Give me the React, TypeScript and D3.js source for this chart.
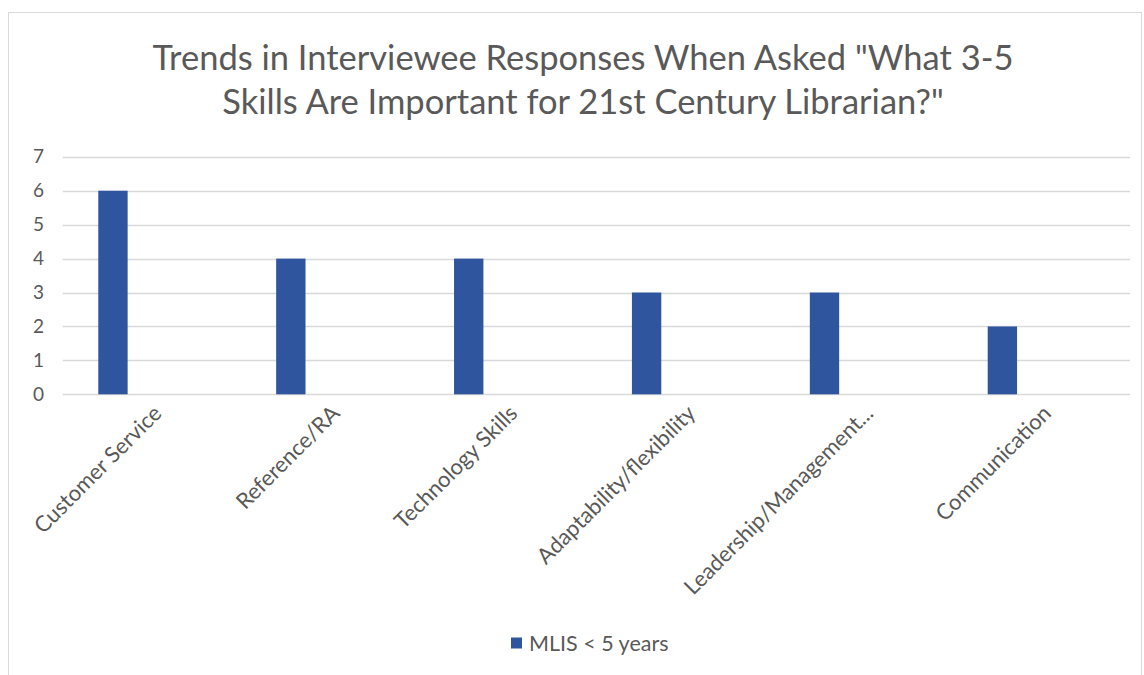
import { useRef, useEffect } from 'react';
import * as d3 from 'd3';

const categories = [
  'Customer Service',
  'Reference/RA',
  'Technology Skills',
  'Adaptability/flexibility',
  'Leadership/Management...',
  'Communication',
];
const values = [6, 4, 4, 3, 3, 2];
const yTicks = [0, 1, 2, 3, 4, 5, 6, 7];
const seriesName = 'MLIS < 5 years';
const titleLines = [
  'Trends in Interviewee Responses When Asked "What 3-5',
  'Skills Are Important for 21st Century Librarian?"',
];

const W = 1144;
const H = 675;
const FONT = 'Lato, "Open Sans", sans-serif';
const TEXT = '#595959';
const BAR = '#2F559F';
const GRID = '#D9D9D9';

const App = () => {
  const svgRef = useRef(null);

  useEffect(() => {
    const svg = d3.select(svgRef.current);
    svg.selectAll('*').remove();

    const plot = { left: 62.7, right: 1130, top: 156.8, bottom: 394.3 };

    // chart frame
    svg
      .append('rect')
      .attr('x', 8.5)
      .attr('y', 12.5)
      .attr('width', 1133)
      .attr('height', 700)
      .attr('fill', 'white')
      .attr('stroke', GRID);

    const x = d3
      .scaleBand<string>()
      .domain(categories)
      .range([plot.left, plot.right]);

    const y = d3
      .scaleLinear()
      .domain([0, 7])
      .range([plot.bottom, plot.top]);

    // gridlines
    svg
      .append('g')
      .selectAll('line')
      .data(yTicks)
      .join('line')
      .attr('x1', plot.left)
      .attr('x2', plot.right)
      .attr('y1', (d) => Math.round(y(d)) + 0.5)
      .attr('y2', (d) => Math.round(y(d)) + 0.5)
      .attr('stroke', GRID)
      .attr('stroke-width', 1.3);

    // y labels
    svg
      .append('g')
      .selectAll('text')
      .data(yTicks)
      .join('text')
      .attr('x', 44)
      .attr('y', (d) => y(d))
      .attr('dy', '0.35em')
      .attr('text-anchor', 'end')
      .attr('font-family', FONT)
      .attr('font-size', 19)
      .attr('fill', TEXT)
      .text((d) => d);

    // bars sit left-of-centre in each band (empty cluster slots)
    const bw = x.bandwidth();
    svg
      .append('g')
      .selectAll('rect')
      .data(values)
      .join('rect')
      .attr('x', (_, i) => (x(categories[i]) as number) + bw * 0.2)
      .attr('width', bw * 0.165)
      .attr('y', (d) => y(d))
      .attr('height', (d) => y(0) - y(d))
      .attr('fill', BAR);

    // category labels
    svg
      .append('g')
      .selectAll('text')
      .data(categories)
      .join('text')
      .attr(
        'transform',
        (d) =>
          `translate(${(x(d) as number) + bw / 2 + 6}, ${plot.bottom + 15}) rotate(-45)`
      )
      .attr('text-anchor', 'end')
      .attr('dy', '0.35em')
      .attr('font-family', FONT)
      .attr('font-size', 22)
      .attr('fill', TEXT)
      .text((d) => d);

    // title
    svg
      .append('g')
      .selectAll('text')
      .data(titleLines)
      .join('text')
      .attr('x', 583)
      .attr('y', (_, i) => 70 + i * 44)
      .attr('text-anchor', 'middle')
      .attr('font-family', FONT)
      .attr('font-size', 34.5)
      .attr('fill', TEXT)
      .text((d) => d);

    // legend
    const legend = svg.append('g').attr('transform', 'translate(511, 643)');
    legend
      .append('rect')
      .attr('x', 0)
      .attr('y', -5.5)
      .attr('width', 11)
      .attr('height', 11)
      .attr('fill', BAR);
    legend
      .append('text')
      .attr('x', 18)
      .attr('dy', '0.35em')
      .attr('font-family', FONT)
      .attr('font-size', 21.5)
      .attr('fill', TEXT)
      .text(seriesName);
  }, []);

  return (
    <svg
      ref={svgRef}
      width={W}
      height={H}
      style={{ position: 'absolute', left: 0, top: 0 }}
    />
  );
};

export default App;
